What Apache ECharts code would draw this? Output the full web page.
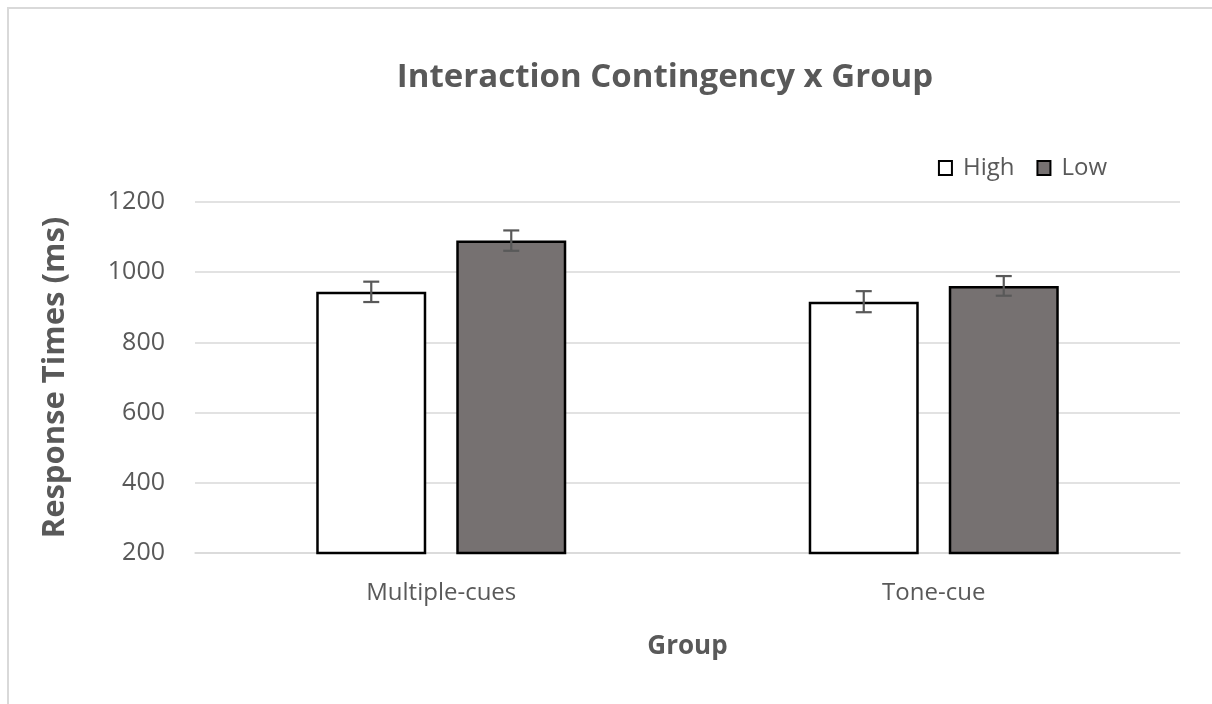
<!DOCTYPE html>
<html><head><meta charset="utf-8">
<script src="https://cdn.jsdelivr.net/npm/echarts@6/dist/echarts.min.js"></script>
<style>html,body{margin:0;padding:0;background:#fff;}#c{width:1212px;height:704px;}</style>
</head><body><div id="c"></div>
<script>
const categories = ['Multiple-cues', 'Tone-cue'];
const seriesNames = ['High', 'Low'];
const highValues = [944, 916];
const lowValues = [1090, 961];
const highErrors = [29, 30];
const lowErrors = [29, 28];
const yTicks = [200, 400, 600, 800, 1000, 1200];
const titleText = 'Interaction Contingency x Group';

const FONT = 'Open Sans';
const TXT = '#595959';
const chart = echarts.init(document.getElementById('c'));

function errSeries(idx, values, errs) {
  return {
    type: 'custom',
    name: seriesNames[idx] + ' err',
    z: 10,
    data: values.map((v, i) => [i, v - errs[i], v + errs[i]]),
    renderItem: function (params, api) {
      const ci = api.value(0);
      const lo = api.coord([ci, api.value(1)]);
      const hi = api.coord([ci, api.value(2)]);
      // bar offset: barWidth 110, gap 30 -> centers at +-70
      const off = idx === 0 ? -70 : 70;
      const x = lo[0] + off;
      const cap = 8;
      const st = { stroke: '#595959', lineWidth: 2.2 };
      return {
        type: 'group',
        children: [
          { type: 'line', shape: { x1: x, y1: hi[1], x2: x, y2: lo[1] }, style: st },
          { type: 'line', shape: { x1: x - cap, y1: hi[1], x2: x + cap, y2: hi[1] }, style: st },
          { type: 'line', shape: { x1: x - cap, y1: lo[1], x2: x + cap, y2: lo[1] }, style: st }
        ]
      };
    }
  };
}

chart.setOption({
  animation: false,
  backgroundColor: '#fff',
  graphic: [{
    type: 'rect', silent: true, z: -10,
    shape: { x: 8, y: 8, width: 1240, height: 740 },
    style: { fill: 'none', stroke: '#d9d9d9', lineWidth: 2 }
  }, {
    type: 'text', silent: true,
    style: {
      text: titleText, x: 665, y: 78, textAlign: 'center', textVerticalAlign: 'middle',
      fontFamily: FONT, fontSize: 33, fontWeight: 'bold', fill: TXT
    }
  }],
  legend: {
    data: seriesNames,
    right: 100, top: 151,
    itemWidth: 13, itemHeight: 14, itemGap: 22,
    icon: 'rect',
    itemStyle: { borderWidth: 2, borderColor: '#000' },
    textStyle: { fontFamily: FONT, fontSize: 24, color: TXT, padding: [0, 0, 0, 6] }
  },
  grid: { left: 195, right: 32, top: 202, bottom: 151, containLabel: false },
  xAxis: {
    type: 'category',
    data: categories,
    name: 'Group',
    nameLocation: 'middle',
    nameGap: 81,
    nameTextStyle: { fontFamily: FONT, fontSize: 26, fontWeight: 'bold', color: TXT },
    axisLine: { show: true, lineStyle: { color: '#d9d9d9', width: 1.5 } },
    axisTick: { show: false },
    axisLabel: { fontFamily: FONT, fontSize: 24, color: TXT, margin: 28 }
  },
  yAxis: {
    type: 'value',
    min: 200, max: 1200, interval: 200,
    name: 'Response Times (ms)',
    nameLocation: 'middle',
    nameGap: 124,
    nameRotate: 90,
    nameTextStyle: { fontFamily: FONT, fontSize: 31, fontWeight: 'bold', color: TXT },
    axisLine: { show: false },
    axisTick: { show: false },
    splitLine: { lineStyle: { color: '#d9d9d9', width: 1.5 } },
    axisLabel: { fontFamily: FONT, fontSize: 25, color: TXT, margin: 30,
      formatter: v => yTicks.includes(v) ? String(v) : '' }
  },
  series: [
    { name: 'High', type: 'bar', data: highValues, barWidth: 110, barGap: '27.3%',
      itemStyle: { color: '#ffffff', borderColor: '#000', borderWidth: 2.5 } },
    { name: 'Low', type: 'bar', data: lowValues, barWidth: 110,
      itemStyle: { color: '#767171', borderColor: '#000', borderWidth: 2.5 } },
    errSeries(0, highValues, highErrors),
    errSeries(1, lowValues, lowErrors)
  ]
});
</script></body></html>
